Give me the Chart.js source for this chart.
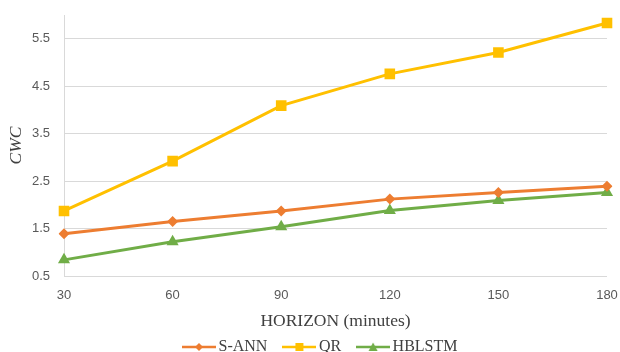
<!DOCTYPE html>
<html>
<head>
<meta charset="utf-8">
<script src="https://cdn.jsdelivr.net/npm/chart.js@4.4.1/dist/chart.umd.min.js"></script>
<style>
  html, body { margin: 0; padding: 0; background: #ffffff; }
  #wrap { width: 620px; height: 352px; }
</style>
</head>
<body>
<div id="wrap"><canvas id="chart-cwc" width="620" height="352"></canvas></div>
<script>
// ===== CWC vs horizon =====
const horizons = ['30', '60', '90', '120', '150', '180'];
const sAnnValues = [1.39, 1.65, 1.87, 2.12, 2.26, 2.39];
const qrValues = [1.87, 2.92, 4.09, 4.76, 5.21, 5.83];
const hblstmValues = [0.84, 1.22, 1.54, 1.88, 2.09, 2.26];
const yTickValues = [0.5, 1.5, 2.5, 3.5, 4.5, 5.5];

const THEME = {
  orange: '#ed7d31',
  yellow: '#ffc000',
  green: '#70ad47',
  tick: '#595959',
  grid: '#d9d9d9',
  ink: '#404040',
};

const SERIF = '"Liberation Serif", "DejaVu Serif", serif';
const SANS = '"Liberation Sans", "DejaVu Sans", sans-serif';

// small canvas: line + marker, used as legend symbol
function legendSymbol(color, style) {
  const c = document.createElement('canvas');
  c.width = 34; c.height = 12;
  const g = c.getContext('2d');
  g.strokeStyle = color;
  g.fillStyle = color;
  g.lineWidth = 2.5;
  g.beginPath(); g.moveTo(0, 6); g.lineTo(34, 6); g.stroke();
  g.beginPath();
  if (style === 'rectRot') {
    g.moveTo(17, 2); g.lineTo(21, 6); g.lineTo(17, 10); g.lineTo(13, 6);
  } else if (style === 'rect') {
    g.rect(13, 2, 8, 8);
  } else {
    g.moveTo(17, 1.5); g.lineTo(21.5, 10); g.lineTo(12.5, 10);
  }
  g.closePath(); g.fill();
  return c;
}

function series(label, values, color, style, radius) {
  return {
    label: label,
    data: values,
    borderColor: color,
    backgroundColor: color,
    borderWidth: 3,
    pointStyle: style,
    pointRadius: radius,
    pointHoverRadius: radius,
    pointBorderWidth: 0,
    tension: 0,
    legendSymbol: legendSymbol(color, style),
  };
}

// legend sits a bit right of the canvas centre in the original
const legendShift = {
  id: 'legendShift',
  afterLayout(chart) {
    if (!chart.legend) return;
    chart.legend.left += 16;
    chart.legend.right += 16;
  }
};

new Chart(document.getElementById('chart-cwc'), {
  type: 'line',
  data: {
    labels: horizons,
    datasets: [
      series('S-ANN', sAnnValues, THEME.orange, 'rectRot', 5.5),
      series('QR', qrValues, THEME.yellow, 'rect', 7.5),
      series('HBLSTM', hblstmValues, THEME.green, 'triangle', 7),
    ]
  },
  plugins: [legendShift],
  options: {
    responsive: false,
    animation: false,
    layout: { padding: { left: 6, right: 13, top: 15, bottom: -13 } },
    plugins: {
      tooltip: { enabled: false },
      legend: {
        position: 'bottom',
        labels: {
          usePointStyle: true,
          pointStyleWidth: 23,
          padding: 20.5,
          color: THEME.ink,
          font: { family: SERIF, size: 16 },
          generateLabels: (chart) => chart.data.datasets.map((ds, i) => ({
            text: ds.label,
            pointStyle: ds.legendSymbol,
            fillStyle: ds.borderColor,
            strokeStyle: ds.borderColor,
            lineWidth: 0,
            fontColor: THEME.ink,
            datasetIndex: i,
            hidden: false,
          })),
        }
      }
    },
    scales: {
      x: {
        offset: false,
        grid: { display: false, drawTicks: false },
        border: { display: false },
        afterFit: (axis) => {
          axis.height = 42.5;
          axis.paddingLeft = 0;
          axis.paddingRight = 0;
        },
        ticks: {
          color: THEME.tick,
          padding: 12,
          maxRotation: 0,
          font: { family: SANS, size: 13 },
        },
        title: {
          display: true,
          text: 'HORIZON (minutes)',
          color: THEME.ink,
          padding: { top: 0, bottom: -13 },
          font: { family: SERIF, size: 17.5 },
        }
      },
      y: {
        min: 0.5,
        max: 6,
        afterBuildTicks: (axis) => { axis.ticks = yTickValues.map(v => ({ value: v })); },
        afterFit: (axis) => {
          axis.width = 58;
          axis.paddingTop = 0;
          axis.paddingBottom = 0;
        },
        grid: { color: THEME.grid, lineWidth: 1, drawTicks: false },
        border: { display: true, color: THEME.grid },
        ticks: {
          color: THEME.tick,
          padding: 14,
          callback: (v) => v.toFixed(1),
          font: { family: SANS, size: 13 },
        },
        title: {
          display: true,
          text: 'CWC',
          color: THEME.ink,
          padding: { top: 0, bottom: 0 },
          font: { family: SERIF, size: 17.5, style: 'italic' },
        }
      }
    }
  }
});
</script>
</body>
</html>
